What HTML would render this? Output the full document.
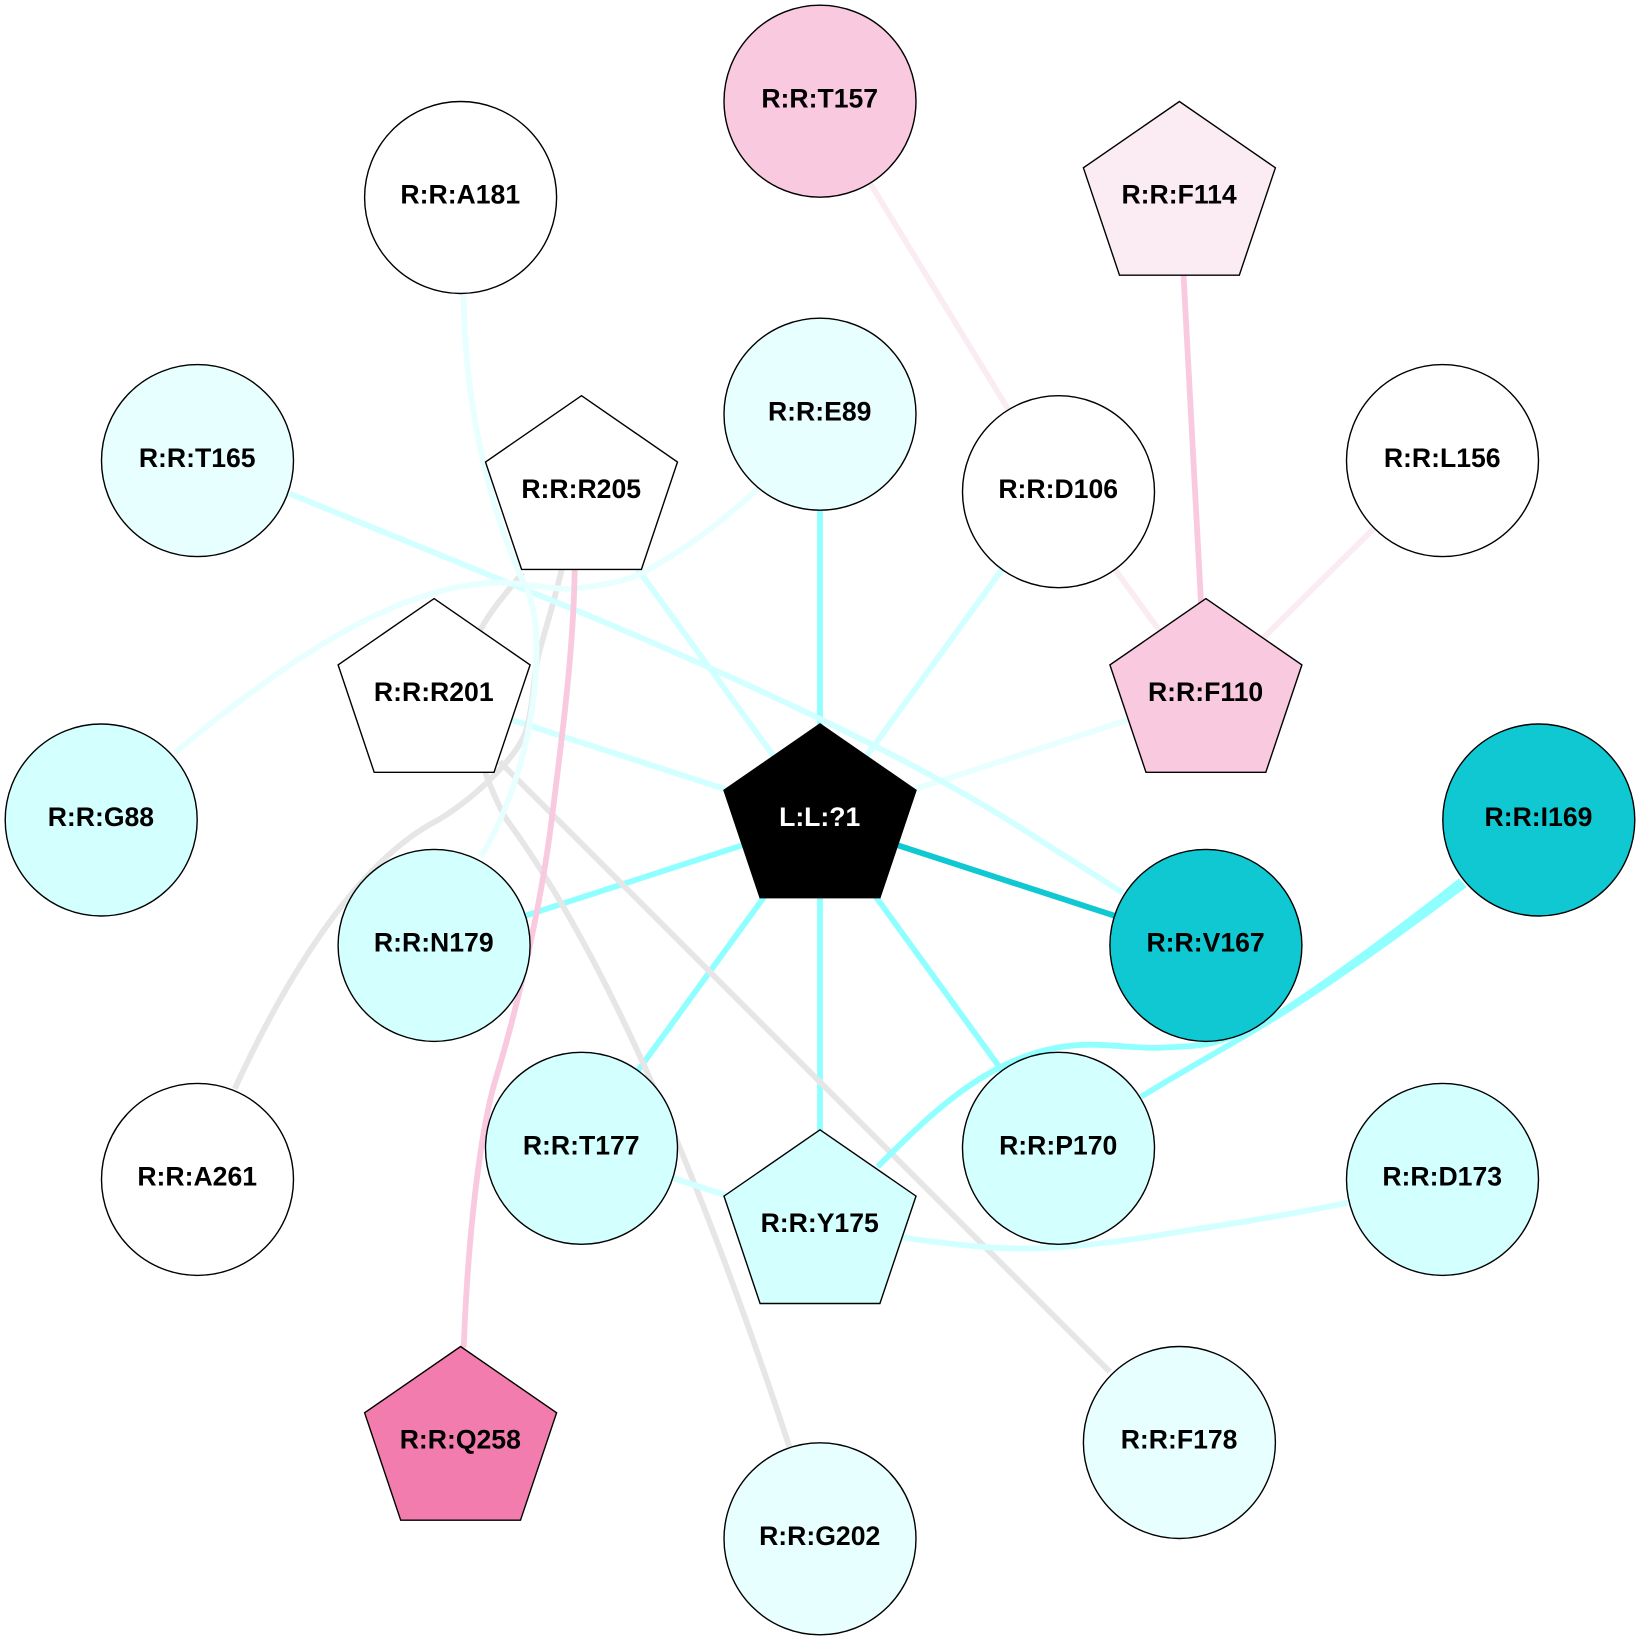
<!DOCTYPE html>
<html>
<head>
<meta charset="utf-8">
<style>
html,body{margin:0;padding:0;background:#fff}
svg{display:block}
text{font-family:"Liberation Sans",Arial,sans-serif;font-weight:bold;font-size:26.6px;text-anchor:middle;fill:#000}
.n{stroke:#000;stroke-width:1.4}
.e{fill:none;stroke-width:5.8}
</style>
</head>
<body>
<svg width="1640" height="1640" viewBox="0 0 1640 1640" xmlns="http://www.w3.org/2000/svg">
<rect width="1640" height="1640" fill="#fff"/>
<g transform="translate(-0.3,-0.3)">
<g class="edges">
<path class="e" stroke="#90ffff" d="M820.3,820.3L820.3,414.5"/>
<path class="e" stroke="#d2ffff" d="M820.3,820.3L1058.8,492"/>
<path class="e" stroke="#d2ffff" d="M820.3,820.3L581.8,492"/>
<path class="e" stroke="#d2ffff" d="M820.3,820.3L512,720.2"/>
<path class="e" stroke="#e8ffff" d="M820.3,820.3L1206.2,694.9"/>
<path class="e" stroke="#10c8d2" d="M820.3,820.3L1206.2,945.7"/>
<path class="e" stroke="#90ffff" d="M820.3,820.3L1058.8,1148.6"/>
<path class="e" stroke="#90ffff" d="M820.3,820.3L820.3,1226.1"/>
<path class="e" stroke="#90ffff" d="M820.3,820.3L581.8,1148.6"/>
<path class="e" stroke="#90ffff" d="M820.3,820.3L434.4,945.7"/>
<path class="e" stroke="#e6e6e6" d="M500,762L1110,1372"/>
<path class="e" stroke="#e6e6e6" d="M562,570C555,600 547,625 539,654C533,680 534,705 526,732C518,755 480,795 439,820C360,860 290,970 235,1089"/>
<path class="e" stroke="#e6e6e6" d="M523,573C505,595 490,612 481,630C470,665 472,735 486,774C492,790 498,805 507,820C610,960 705,1190 790,1448"/>
<path class="e" stroke="#d2ffff" d="M290,494L528,591Q680,652 820,719Q930,772 1008,820L1123,893"/>
<path class="e" stroke="#e8ffff" d="M464,293C464,400 490,515 528,591C548,640 535,770 481,857"/>
<path class="e" stroke="#e8ffff" d="M175,753C270,675 390,583 502,583C530,583 555,592 581,588C605,585 625,582 643,573C690,548 730,515 758,489"/>
<path class="e" stroke="#f9c9df" d="M575,570C574,650 562,740 552,820C542,900 520,1000 497,1076C480,1130 468,1240 464,1348"/>
<path class="e" stroke="#fbecf4" d="M820.3,101.5L1058.8,492"/>
<path class="e" stroke="#f9c9df" d="M1179.7,197.8L1206.2,694.9"/>
<path class="e" stroke="#fbecf4" d="M1058.8,492L1206.2,694.9"/>
<path class="e" stroke="#fbecf4" d="M1442.8,460.9L1206.2,694.9"/>
<path class="e" stroke="#d2ffff" d="M581.8,1148.6L820.3,1226.1"/>
<path class="e" stroke="#d2ffff" d="M820.3,1226.1C850,1232 875,1235 904,1238C940,1243 985,1249 1029,1249C1085,1247 1135,1240 1186,1231C1240,1223 1295,1214 1348,1203"/>
<path class="e" stroke="#90ffff" d="M878,1167C935,1110 1000,1045 1090,1045C1115,1045 1140,1049 1160,1048C1180,1047 1200,1047 1217,1042C1235,1036 1252,1030 1270,1020C1335,978 1400,929 1461,881"/>
<path class="e" stroke="#90ffff" d="M1141.6,1097C1185,1070 1228,1047 1272,1020C1337,980 1403,932 1465,885"/>
<path class="e" stroke="#90ffff" d="M1271,1020C1336,979 1401,930 1463,883"/>
</g>
<g class="nodes">
<circle class="n" cx="820.3" cy="101.5" r="96" fill="#f9c9df"/>
<polygon class="n" points="1179.7,101.8 1275.7,168.1 1239.6,275.5 1119.8,275.5 1083.7,168.1" fill="#fbecf4"/>
<circle class="n" cx="1442.8" cy="460.9" r="96" fill="#fff"/>
<circle class="n" cx="1539.1" cy="820.3" r="96" fill="#10c8d2"/>
<circle class="n" cx="1442.8" cy="1179.7" r="96" fill="#d3ffff"/>
<circle class="n" cx="1179.7" cy="1442.8" r="96" fill="#e8ffff"/>
<circle class="n" cx="820.3" cy="1539.1" r="96" fill="#e8ffff"/>
<polygon class="n" points="460.9,1346.8 556.9,1413.1 520.8,1520.5 401,1520.5 364.9,1413.1" fill="#f27cad"/>
<circle class="n" cx="197.8" cy="1179.7" r="96" fill="#fff"/>
<circle class="n" cx="101.5" cy="820.3" r="96" fill="#d3ffff"/>
<circle class="n" cx="197.8" cy="460.9" r="96" fill="#e8ffff"/>
<circle class="n" cx="460.9" cy="197.8" r="96" fill="#fff"/>
<circle class="n" cx="820.3" cy="414.5" r="96" fill="#e8ffff"/>
<circle class="n" cx="1058.8" cy="492" r="96" fill="#fff"/>
<polygon class="n" points="1206.2,598.9 1302.2,665.2 1266.1,772.6 1146.3,772.6 1110.2,665.2" fill="#f9c9df"/>
<circle class="n" cx="1206.2" cy="945.7" r="96" fill="#10c8d2"/>
<circle class="n" cx="1058.8" cy="1148.6" r="96" fill="#d3ffff"/>
<polygon class="n" points="820.3,1130.1 916.3,1196.4 880.2,1303.8 760.4,1303.8 724.3,1196.4" fill="#d3ffff"/>
<circle class="n" cx="581.8" cy="1148.6" r="96" fill="#d3ffff"/>
<circle class="n" cx="434.4" cy="945.7" r="96" fill="#d3ffff"/>
<polygon class="n" points="434.4,598.9 530.4,665.2 494.3,772.6 374.5,772.6 338.4,665.2" fill="#fff"/>
<polygon class="n" points="581.8,396 677.8,462.3 641.7,569.7 521.9,569.7 485.8,462.3" fill="#fff"/>
<polygon class="n" points="820.3,724.3 916.3,790.6 880.2,898 760.4,898 724.3,790.6" fill="#000"/>
</g>
<g class="labels">
<text x="820" y="107.7">R:R:T157</text>
<text x="1179.4" y="204">R:R:F114</text>
<text x="1442.5" y="467.1">R:R:L156</text>
<text x="1538.8" y="826.5">R:R:I169</text>
<text x="1442.5" y="1185.9">R:R:D173</text>
<text x="1179.4" y="1449">R:R:F178</text>
<text x="820" y="1545.3">R:R:G202</text>
<text x="460.6" y="1449">R:R:Q258</text>
<text x="197.5" y="1185.9">R:R:A261</text>
<text x="101.2" y="826.5">R:R:G88</text>
<text x="197.5" y="467.1">R:R:T165</text>
<text x="460.6" y="204">R:R:A181</text>
<text x="820" y="420.7">R:R:E89</text>
<text x="1058.5" y="498.2">R:R:D106</text>
<text x="1205.9" y="701.1">R:R:F110</text>
<text x="1205.9" y="951.9">R:R:V167</text>
<text x="1058.5" y="1154.8">R:R:P170</text>
<text x="820" y="1232.3">R:R:Y175</text>
<text x="581.5" y="1154.8">R:R:T177</text>
<text x="434.1" y="951.9">R:R:N179</text>
<text x="434.1" y="701.1">R:R:R201</text>
<text x="581.5" y="498.2">R:R:R205</text>
<text x="820" y="826.5" style="fill:#fff">L:L:?1</text>
</g>
</g>
</svg>
</body>
</html>
